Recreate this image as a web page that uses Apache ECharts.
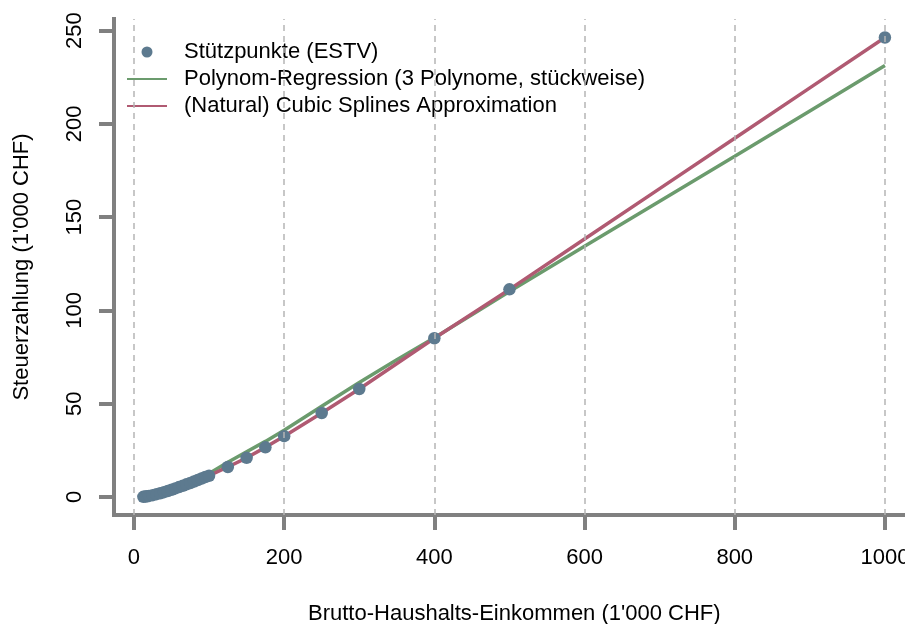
<!DOCTYPE html>
<html>
<head>
<meta charset="utf-8">
<script src="https://cdn.jsdelivr.net/npm/echarts@6/dist/echarts.min.js"></script>
<style>html,body{margin:0;padding:0;background:#fff}#c{width:905px;height:624px}</style>
</head>
<body>
<div id="c"></div>
<script>
// Support points (ESTV)
const pointX = [12.5,15,17.5,20,25,30,35,40,45,50,55,60,65,70,75,80,85,90,95,100,125,150,175,200,250,300,400,500,1000];
const pointY = [0.1,0.2,0.4,0.6,1.0,1.5,2.0,2.6,3.2,3.9,4.6,5.3,6.0,6.8,7.5,8.3,9.1,9.9,10.7,11.4,16.1,21.0,26.6,32.6,45.0,57.9,85.1,111.3,246.3];
// Polynomial regression (piecewise)
const polyX = [12.5,25,50,75,100,125,150,175,200,250,300,350,400,450,500,600,700,800,900,1000];
const polyY = [0.0,1.0,4.2,8.0,12.6,18.6,24.2,29.8,35.8,48.6,61.4,73.6,85.4,97.7,110.2,134.4,158.5,182.6,206.9,231.3];
// Natural cubic spline
const splineX = [12.5,15,17.5,20,25,30,35,40,45,50,55,60,65,70,75,80,85,90,95,100,125,150,175,200,250,300,400,500,600,700,800,900,1000];
const splineY = [0.1,0.2,0.4,0.6,1.0,1.5,2.0,2.6,3.2,3.9,4.6,5.3,6.0,6.8,7.5,8.3,9.1,9.9,10.7,11.4,16.1,21.0,26.6,32.6,45.0,57.9,85.1,111.3,138.3,165.3,192.3,219.3,246.3];
const xTicks = [0,200,400,600,800,1000];
const yTicks = [0,50,100,150,200,250];
const gridX = [0,200,400,600,800,1000];
const seriesNames = ['Stützpunkte (ESTV)','Polynom-Regression (3 Polynome, stückweise)','(Natural) Cubic Splines Approximation'];

const zip = (a,b) => a.map((v,i)=>[v,b[i]]);
const FONT = 'Liberation Sans, Arial, sans-serif';
const AX = '#808080';

const chart = echarts.init(document.getElementById('c'), null, {renderer:'canvas'});
chart.setOption({
  animation:false,
  backgroundColor:'#fff',
  textStyle:{fontFamily:FONT},
  grid:{left:114, top:19, width:800.6, height:496, containLabel:false, outerBoundsMode:'none'},
  legend:{
    left:121, top:36, orient:'vertical', itemGap:5, itemWidth:40, itemHeight:11,
    data:[
      {name:seriesNames[0]},
      {name:seriesNames[1], itemStyle:{opacity:0}},
      {name:seriesNames[2], itemStyle:{opacity:0}}
    ],
    textStyle:{fontSize:22, color:'#000', fontFamily:FONT, padding:[0,0,0,12]},
    selectedMode:false
  },
  xAxis:{
    type:'value', min:-26.6, max:1039.5,
    axisLine:{show:true, onZero:false, lineStyle:{color:AX, width:4, cap:'square'}},
    axisTick:{show:true, customValues:xTicks, length:15, lineStyle:{color:AX, width:4}},
    axisLabel:{customValues:xTicks, formatter:v=>String(v), fontSize:22, color:'#000', fontFamily:FONT, margin:43, verticalAlign:'middle'},
    splitLine:{show:false},
    name:'Brutto-Haushalts-Einkommen (1\'000 CHF)', nameLocation:'middle', nameGap:99,
    nameTextStyle:{fontSize:22, color:'#000', fontFamily:FONT, verticalAlign:'middle', align:'center'}
  },
  yAxis:{
    type:'value', min:-9.65, max:256.2,
    axisLine:{show:true, onZero:false, lineStyle:{color:AX, width:4, cap:'square'}},
    axisTick:{show:true, customValues:yTicks, length:15, lineStyle:{color:AX, width:4}},
    axisLabel:{customValues:yTicks, formatter:v=>String(v), fontSize:22, color:'#000', fontFamily:FONT, margin:39, rotate:90, align:'center', verticalAlign:'middle'},
    splitLine:{show:false},
    name:'Steuerzahlung (1\'000 CHF)', nameLocation:'middle', nameGap:92, nameRotate:90,
    nameTextStyle:{fontSize:22, color:'#000', fontFamily:FONT, verticalAlign:'middle', align:'center'}
  },
  series:[
    {
      name:'grid', type:'scatter', data:[], z:0, silent:true,
      markLine:{silent:true, symbol:'none', label:{show:false}, animation:false,
        lineStyle:{color:'#b5b5b5', width:1.5, type:[6,5]},
        data:gridX.map(v=>({xAxis:v}))}
    },
    {
      name:seriesNames[1], type:'line', data:zip(polyX,polyY), symbol:'none', z:2,
      lineStyle:{color:'#6b9b6d', width:3.5}, itemStyle:{color:'#6b9b6d'}
    },
    {
      name:seriesNames[2], type:'line', data:zip(splineX,splineY), symbol:'none', z:3,
      lineStyle:{color:'#b05a72', width:3.5}, itemStyle:{color:'#b05a72'}
    },
    {
      name:seriesNames[0], type:'scatter', data:zip(pointX,pointY), symbol:'circle', symbolSize:12.5, z:4,
      itemStyle:{color:'#5d7a8f', opacity:1}
    }
  ]
});
</script>
</body>
</html>
